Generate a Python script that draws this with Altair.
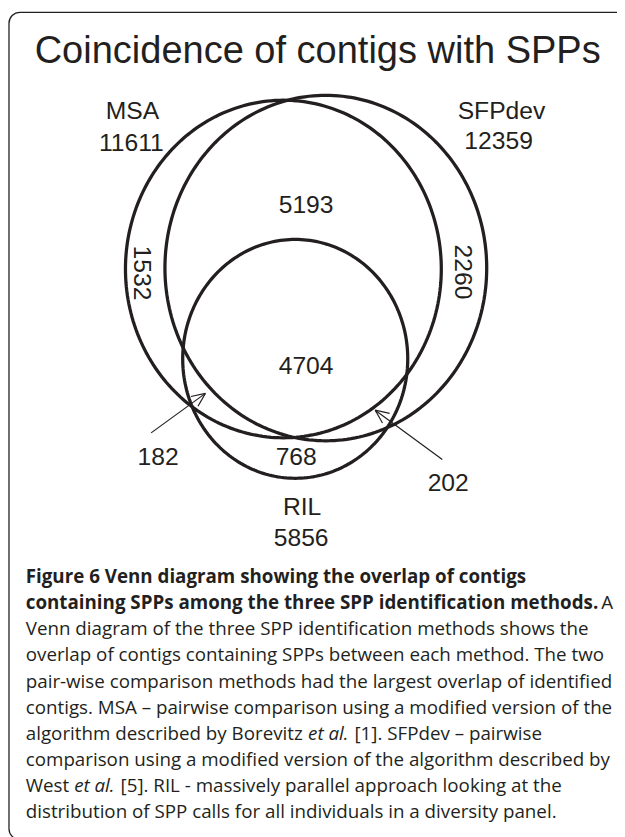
import altair as alt
import numpy as np
import pandas as pd

# ---------------- data ----------------
TITLE = "Coincidence of contigs with SPPs"

SET_NAMES = ["MSA", "SFPdev", "RIL"]
SET_TOTALS = ["11611", "12359", "5856"]
# ellipse centre / radii (picture pixels)
SET_CX = [287, 330, 299]
SET_CY = [267, 266, 358]
SET_RX = [160, 163, 114]
SET_RY = [171, 175, 121]
# name / total label anchors
NAME_X = [134, 508, 306]
NAME_Y = [115, 115, 516]
TOTAL_X = [133, 505, 305]
TOTAL_Y = [147, 145, 548]

REGION_VALUES = ["5193", "4704", "182", "768", "202"]
REGION_X = [310, 310, 160, 300, 454]
REGION_Y = [210, 373, 466, 466, 492]

ROT_VALUES = ["1532", "2260"]
ROT_X = [144, 469]
ROT_Y = [271, 270]

ARROW_TAIL_X = [153, 448]
ARROW_TAIL_Y = [433, 460]
ARROW_TIP_X = [208, 380]
ARROW_TIP_Y = [393, 410]

CAPTION_LINES = [
    "Venn diagram of the three SPP identification methods shows the",
    "overlap of contigs containing SPPs between each method. The two",
    "pair-wise comparison methods had the largest overlap of identified",
    "contigs. MSA \u2013 pairwise comparison using a modified version of the",
    "algorithm described by Borevitz",
    "comparison using a modified version of the algorithm described by",
    "West",
    "distribution of SPP calls for all individuals in a diversity panel.",
]
CAPTION_LINE_NO = [2, 3, 4, 5, 6, 7, 8, 9]
BOLD_LINES = [
    "Figure 6 Venn diagram showing the overlap of contigs",
    "containing SPPs among the three SPP identification methods.",
]
BOLD_LINE_NO = [0, 1]
EXTRA_TEXT = ["A", "[1]. SFPdev \u2013 pairwise", "[5]. RIL - massively parallel approach looking at the"]
EXTRA_X = [609, 359, 122]
EXTRA_LINE_NO = [1, 6, 8]
ITALIC_TEXT = ["et al.", "et al."]
ITALIC_X = [312, 75]
ITALIC_LINE_NO = [6, 8]

CAP_X0 = 26
CAP_Y0 = 585
CAP_STEP = 26.5
CAP_SIZE = 19

INK = "#231f20"
W, H = 617, 829

# ---------------- tables ----------------
t = np.linspace(0, 2 * np.pi, 241)
rows = []
for name, cx, cy, rx, ry in zip(SET_NAMES, SET_CX, SET_CY, SET_RX, SET_RY):
    for i, tt in enumerate(t):
        rows.append({"set": name, "i": i, "x": cx + rx * np.cos(tt), "y": cy + ry * np.sin(tt)})
ell = pd.DataFrame(rows)

seg = []
for tx, ty, hx, hy in zip(ARROW_TAIL_X, ARROW_TAIL_Y, ARROW_TIP_X, ARROW_TIP_Y):
    seg.append({"x": tx, "y": ty, "x2": hx, "y2": hy})
    dx, dy = hx - tx, hy - ty
    L = np.hypot(dx, dy)
    bx, by = -dx / L, -dy / L
    for a in (np.radians(24), -np.radians(24)):
        rx_ = bx * np.cos(a) - by * np.sin(a)
        ry_ = bx * np.sin(a) + by * np.cos(a)
        seg.append({"x": hx, "y": hy, "x2": hx + 15 * rx_, "y2": hy + 15 * ry_})
arrows = pd.DataFrame(seg)

xs = alt.Scale(domain=[8, 8 + W], range=[0, W], nice=False, zero=False)
ys = alt.Scale(domain=[8, 8 + H], range=[0, H], nice=False, zero=False)
X = lambda f: alt.X(f, type="quantitative", scale=xs, axis=None)
Y = lambda f: alt.Y(f, type="quantitative", scale=ys, axis=None)

border = alt.Chart(pd.DataFrame({"x": [9], "x2": [700], "y": [7], "y2": [845]})).mark_rect(
    fill=None, stroke=INK, strokeWidth=1.3, cornerRadius=11
).encode(x=X("x"), x2="x2", y=Y("y"), y2="y2")

title = alt.Chart(pd.DataFrame({"t": [TITLE], "x": [35], "y": [58]})).mark_text(
    font="Liberation Sans", fontSize=38.5, align="left", baseline="alphabetic", color=INK
).encode(x=X("x"), y=Y("y"), text="t:N")

ellipses = alt.Chart(ell).mark_line(strokeWidth=3.3, color=INK).encode(
    x=X("x"), y=Y("y"), detail="set:N", order="i:Q"
)

arrow_layer = alt.Chart(arrows).mark_rule(strokeWidth=1.2, color=INK).encode(
    x=X("x"), y=Y("y"), x2="x2", y2="y2"
)

lab_df = pd.DataFrame({
    "t": SET_NAMES + SET_TOTALS + REGION_VALUES,
    "x": NAME_X + TOTAL_X + REGION_X,
    "y": NAME_Y + TOTAL_Y + REGION_Y,
})
labels = alt.Chart(lab_df).mark_text(
    font="Liberation Sans", fontSize=25, align="center", baseline="alphabetic", color=INK
).encode(x=X("x"), y=Y("y"), text="t:N")

rot = alt.Chart(pd.DataFrame({"t": ROT_VALUES, "x": ROT_X, "y": ROT_Y})).mark_text(
    font="Liberation Sans", fontSize=25, align="center", baseline="middle", angle=90, color=INK
).encode(x=X("x"), y=Y("y"), text="t:N")

def cap_df(texts, xs_, lines):
    return pd.DataFrame({"t": texts, "x": xs_, "y": [CAP_Y0 + CAP_STEP * n for n in lines]})

cap_kw = dict(font="Open Sans", fontSize=CAP_SIZE, align="left", baseline="alphabetic", color=INK)
cap_regular = alt.Chart(cap_df(CAPTION_LINES, [CAP_X0] * len(CAPTION_LINES), CAPTION_LINE_NO)).mark_text(**cap_kw).encode(
    x=X("x"), y=Y("y"), text="t:N")
cap_extra = alt.Chart(cap_df(EXTRA_TEXT, EXTRA_X, EXTRA_LINE_NO)).mark_text(**cap_kw).encode(
    x=X("x"), y=Y("y"), text="t:N")
cap_bold = alt.Chart(cap_df(BOLD_LINES, [CAP_X0] * 2, BOLD_LINE_NO)).mark_text(fontWeight="bold", **cap_kw).encode(
    x=X("x"), y=Y("y"), text="t:N")
cap_ital = alt.Chart(cap_df(ITALIC_TEXT, ITALIC_X, ITALIC_LINE_NO)).mark_text(fontStyle="italic", **cap_kw).encode(
    x=X("x"), y=Y("y"), text="t:N")

chart = alt.layer(
    border, title, ellipses, arrow_layer, labels, rot, cap_bold, cap_regular, cap_extra, cap_ital
).properties(
    width=W, height=H, autosize=alt.AutoSizeParams(type="none"), padding=0, background="white"
).configure_view(strokeWidth=0)

chart.save("out.html", embed_options={"renderer": "svg", "actions": False})
